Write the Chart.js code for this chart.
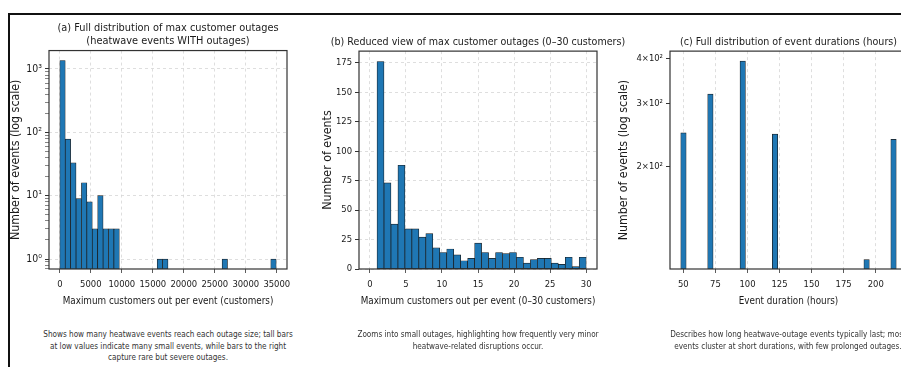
<!DOCTYPE html>
<html>
<head>
<meta charset="utf-8">
<script src="https://cdn.jsdelivr.net/npm/chart.js"></script>
<style>
  html, body { margin: 0; padding: 0; background: #fff; width: 901px; height: 367px; overflow: hidden; position: relative; }
  #frame { position: absolute; left: 8px; top: 13px; width: 1000px; height: 400px; border-left: 2px solid #111; border-top: 2px solid #111; }
  canvas { position: absolute; top: 0; }
  .note { position: absolute; top: 329px; font-family: "DejaVu Sans Condensed", "DejaVu Sans", sans-serif; font-size: 8.1px; line-height: 11.5px; color: #333; text-align: center; white-space: nowrap; transform: translateX(-50%); }
</style>
</head>
<body>
<div id="frame"></div>
<canvas id="chartA" width="336" height="309" style="left:0px"></canvas>
<canvas id="chartB" width="320" height="309" style="left:318px"></canvas>
<canvas id="chartC" width="349" height="309" style="left:614px"></canvas>
<div class="note" style="left:168px">Shows how many heatwave events reach each outage size; tall bars<br>at low values indicate many small events, while bars to the right<br>capture rare but severe outages.</div>
<div class="note" style="left:478px">Zooms into small outages, highlighting how frequently very minor<br>heatwave-related disruptions occur.</div>
<div class="note" style="left:788px">Describes how long heatwave-outage events typically last; most<br>events cluster at short durations, with few prolonged outages.</div>
<script>
// (a) max customers out per event: 40 bins between 1 and 34900 customers
const outageRange = [1, 34900];
const outageCounts = [1360, 78, 33, 9, 16, 8, 3, 10, 3, 3, 3, 0, 0, 0, 0, 0, 0, 0, 1, 1,
  0, 0, 0, 0, 0, 0, 0, 0, 0, 0, 1, 0, 0, 0, 0, 0, 0, 0, 0, 1];
const outageTicks = [0, 5000, 10000, 15000, 20000, 25000, 30000, 35000];
const outageLogTicks = [1, 10, 100, 1000];
const outageLogLabels = ['10\u2070', '10\u00b9', '10\u00b2', '10\u00b3'];

// (b) reduced view, 30 bins between 1 and 30 customers
const smallRange = [1, 30];
const smallCounts = [176, 73, 38, 88, 34, 34, 27, 30, 18, 14, 17, 12, 7, 9, 22,
  14, 9, 14, 13, 14, 10, 5, 8, 9, 9, 5, 4, 10, 2, 10];
const smallXTicks = [0, 5, 10, 15, 20, 25, 30];
const smallYTicks = [0, 25, 50, 75, 100, 125, 150, 175];

// (c) event durations, 40 bins between 48 and 216 hours
const durationRange = [48, 216];
const durationCounts = [248, 0, 0, 0, 0, 318, 0, 0, 0, 0, 0, 393, 0, 0, 0, 0, 0, 246, 0, 0,
  0, 0, 0, 0, 0, 0, 0, 0, 0, 0, 0, 0, 0, 0, 110, 0, 0, 0, 0, 238];
const durationXTicks = [50, 75, 100, 125, 150, 175, 200];
const durationLogTicks = [200, 300, 400];
const durationLogLabels = ['2\u00d710\u00b2', '3\u00d710\u00b2', '4\u00d710\u00b2'];

const FONT = '"DejaVu Sans Condensed", "DejaVu Sans", sans-serif';
const BAR = '#1f77b4';
const EDGE = '#1a1a1a';
const GRID = '#d6d6d6';
const AX = '#333';
const TXT = '#1a1a1a';

Chart.defaults.color = TXT;
Chart.defaults.font.family = FONT;

// matplotlib-like box around the plot area
const spines = {
  id: 'spines',
  afterDraw(chart) {
    const {ctx, chartArea: a} = chart;
    ctx.save();
    ctx.strokeStyle = AX;
    ctx.lineWidth = 1.2;
    ctx.strokeRect(a.left, a.top, a.right - a.left, a.bottom - a.top);
    ctx.restore();
  }
};

function binCentres(range, n) {
  const w = (range[1] - range[0]) / n;
  return Array.from({length: n}, (_, i) => range[0] + w * (i + 0.5));
}

// log minor ticks (2..9 x 10^k) inside [lo, hi]
function minorTicks(lo, hi) {
  const out = [];
  for (let e = Math.floor(Math.log10(lo)); e <= Math.ceil(Math.log10(hi)); e++) {
    for (let m = 2; m < 10; m++) {
      const v = m * Math.pow(10, e);
      if (v > lo && v < hi) out.push(v);
    }
  }
  return out;
}

function axisTitle(text, size) {
  return { display: true, text: text, color: TXT, font: {family: FONT, size: size}, padding: {top: 2, bottom: 2} };
}

function panel(id, o) {
  const xs = binCentres(o.range, o.counts.length);
  const yTickList = o.yTicks.map(v => ({value: v, major: true}))
    .concat((o.yMinor || []).map(v => ({value: v, major: false})))
    .sort((a, b) => a.value - b.value);
  return new Chart(document.getElementById(id), {
    type: 'bar',
    data: {
      datasets: [{
        data: xs.map((x, i) => ({x: x, y: o.counts[i] || null})),
        backgroundColor: BAR,
        borderColor: EDGE,
        borderWidth: 0.7,
        borderSkipped: false,
        barPercentage: 1,
        categoryPercentage: 1
      }]
    },
    options: {
      responsive: false,
      animation: false,
      layout: { padding: {left: o.padL, right: o.padL, top: 0, bottom: 0} },
      plugins: {
        legend: { display: false },
        tooltip: { enabled: false },
        title: {
          display: true, text: o.title, color: TXT,
          font: {family: FONT, size: o.titleSize, weight: 'normal', lineHeight: 1.2},
          padding: {top: o.titleTop, bottom: 2.4}
        }
      },
      scales: {
        x: {
          type: 'linear', min: o.xMin, max: o.xMax, offset: false,
          afterBuildTicks: s => { s.ticks = o.xTicks.map(v => ({value: v})); },
          afterFit: s => { s.height = 40; },
          ticks: { autoSkip: false, maxRotation: 0, minRotation: 0, padding: 6, color: TXT,
            font: {family: FONT, size: 9.4}, callback: v => String(v) },
          grid: { offset: false, drawOnChartArea: true, color: GRID, lineWidth: 0.8, tickLength: 4, tickColor: AX },
          border: { display: false, dash: [3, 3] },
          title: axisTitle(o.xTitle, 9.8)
        },
        y: {
          type: o.yType, min: o.yMin, max: o.yMax,
          afterBuildTicks: s => { s.ticks = yTickList.map(t => ({value: t.value, major: t.major})); },
          afterFit: s => { s.width = o.side; },
          ticks: { autoSkip: false, padding: 3, color: TXT, font: {family: FONT, size: o.yTickSize},
            callback: o.yLabel },
          grid: {
            drawOnChartArea: o.yGrid,
            color: c => (c.tick && c.tick.major) ? GRID : 'rgba(0,0,0,0)',
            tickColor: AX,
            tickWidth: c => (c.tick && c.tick.major) ? 1 : 0.6,
            lineWidth: 0.8, tickLength: 4
          },
          border: { display: false, dash: [3, 3] },
          title: axisTitle(o.yTitle, 12.3)
        },
        // empty right axis so the title is centred over the plot
        pad: {
          type: 'linear', position: 'right', display: true,
          grid: { display: false }, ticks: { display: false }, border: { display: false },
          afterFit: s => { s.width = o.side; }
        }
      }
    },
    plugins: [spines]
  });
}

panel('chartA', {
  range: outageRange, counts: outageCounts, padL: 6, side: 43, titleTop: 22, titleSize: 10.9,
  title: ['(a) Full distribution of max customer outages', '(heatwave events WITH outages)'],
  xMin: -1744, xMax: 36645, xTicks: outageTicks,
  xTitle: 'Maximum customers out per event (customers)',
  yType: 'logarithmic', yMin: 0.697, yMax: 1950, yTicks: outageLogTicks, yGrid: true,
  yMinor: minorTicks(0.697, 1950), yTickSize: 10.4,
  yLabel: v => outageLogLabels[outageLogTicks.indexOf(v)] || '',
  yTitle: 'Number of events (log scale)'
});

panel('chartB', {
  range: smallRange, counts: smallCounts, padL: 0, side: 41, titleTop: 36, titleSize: 10.6,
  title: '(b) Reduced view of max customer outages (0\u201330 customers)',
  xMin: -1.5, xMax: 31.5, xTicks: smallXTicks,
  xTitle: 'Maximum customers out per event (0\u201330 customers)',
  yType: 'linear', yMin: 0, yMax: 184.8, yTicks: smallYTicks, yGrid: true, yTickSize: 9.4,
  yLabel: v => String(v),
  yTitle: 'Number of events'
});

panel('chartC', {
  range: durationRange, counts: durationCounts, padL: 0, side: 56, titleTop: 36, titleSize: 10.6,
  title: '(c) Full distribution of event durations (hours)',
  xMin: 39.6, xMax: 224.4, xTicks: durationXTicks,
  xTitle: 'Event duration (hours)',
  yType: 'logarithmic', yMin: 103.6, yMax: 419, yTicks: durationLogTicks, yGrid: false, yTickSize: 9.4,
  yLabel: v => durationLogLabels[durationLogTicks.indexOf(v)] || '',
  yTitle: 'Number of events (log scale)'
});
</script>
</body>
</html>
